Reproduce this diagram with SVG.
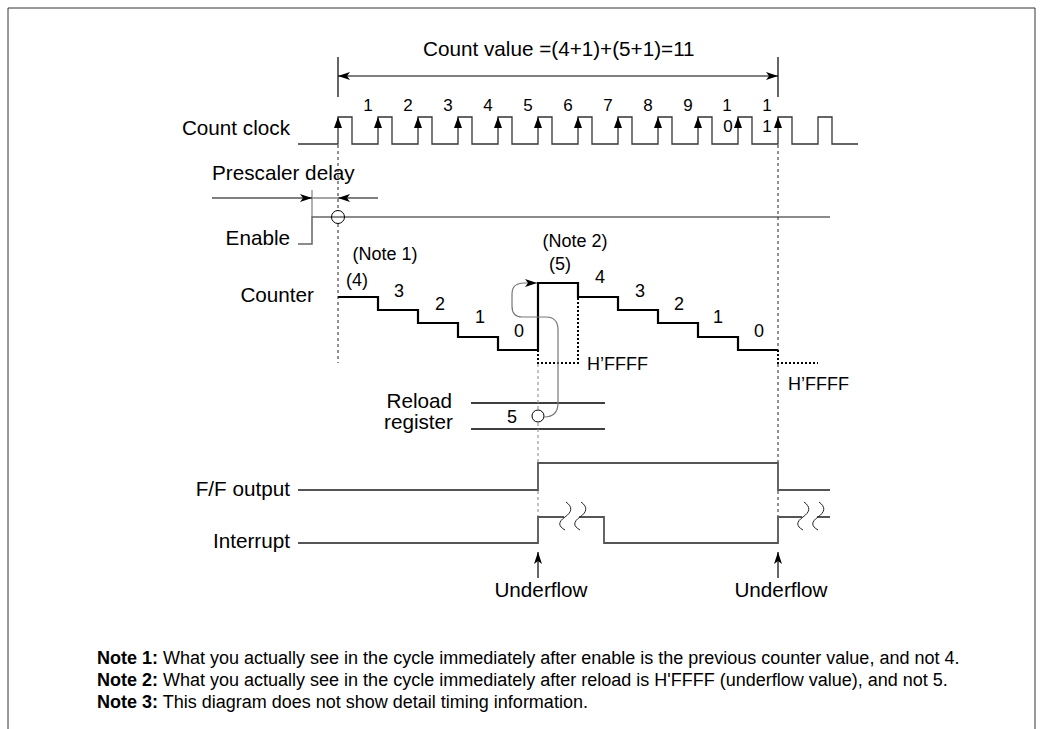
<svg xmlns="http://www.w3.org/2000/svg" width="1044" height="729" viewBox="0 0 1044 729">
<style>
text{font-family:"Liberation Sans",Arial,Helvetica,sans-serif;fill:#000}
.lbl{font-size:20.7px}
.dig{font-size:17px;text-anchor:middle}
.cdig{font-size:18px;text-anchor:middle}
.note{font-size:18px}
.end{text-anchor:end}
.mid{text-anchor:middle}
.wave{fill:none;stroke:#333;stroke-width:1.3}
.sig{fill:none;stroke:#555;stroke-width:1.8}
.cnt{fill:none;stroke:#000;stroke-width:2.2}
.dot{fill:none;stroke:#000;stroke-width:2;stroke-dasharray:2 2}
.guide{fill:none;stroke:#222;stroke-width:1;stroke-dasharray:3 3}
.guide2{fill:none;stroke:#999;stroke-width:1.2;stroke-dasharray:3 3}
.thin{fill:none;stroke:#000;stroke-width:1.2}
.gray{fill:none;stroke:#888;stroke-width:1.3}
.sq{fill:none;stroke:#222;stroke-width:1}
</style>
<defs>
<marker id="arr" viewBox="0 0 12 8" refX="12" refY="4" markerWidth="12" markerHeight="8" orient="auto-start-reverse" markerUnits="userSpaceOnUse"><path d="M0 0 L12 4 L0 8 L3 4 Z" fill="#000"/></marker>
<path id="ah" d="M0 0 L-4 11 L4 11 Z" fill="#000"/>
</defs>
<path d="M8 740 V8 H1035 V740" fill="none" stroke="#333" stroke-width="1"/>

<g id="title">
<text class="lbl" x="423" y="56">Count value =(4+1)+(5+1)=11</text>
</g>

<g id="count-clock">
<text class="lbl end" x="290" y="135">Count clock</text>
<path class="wave" d="M298 144 H338 V117 H352 V144 H378 V117 H392 V144 H418 V117 H432 V144 H458 V117 H472 V144 H498 V117 H512 V144 H538 V117 H552 V144 H578 V117 H592 V144 H618 V117 H632 V144 H658 V117 H672 V144 H698 V117 H712 V144 H738 V117 H752 V144 H778 V117 H792 V144 H818 V117 H832 V144 H858"/>
<use href="#ah" x="338" y="117"/><use href="#ah" x="378" y="117"/><use href="#ah" x="418" y="117"/><use href="#ah" x="458" y="117"/><use href="#ah" x="498" y="117"/><use href="#ah" x="538" y="117"/><use href="#ah" x="578" y="117"/><use href="#ah" x="618" y="117"/><use href="#ah" x="658" y="117"/><use href="#ah" x="698" y="117"/><use href="#ah" x="738" y="117"/><use href="#ah" x="778" y="117"/>
<text class="dig" x="368" y="111">1</text>
<text class="dig" x="408" y="111">2</text>
<text class="dig" x="448" y="111">3</text>
<text class="dig" x="488" y="111">4</text>
<text class="dig" x="528" y="111">5</text>
<text class="dig" x="568" y="111">6</text>
<text class="dig" x="608" y="111">7</text>
<text class="dig" x="648" y="111">8</text>
<text class="dig" x="688" y="111">9</text>
<text class="dig" x="727" y="111">1</text>
<text class="dig" x="728" y="132">0</text>
<text class="dig" x="767" y="111">1</text>
<text class="dig" x="767" y="132">1</text>
</g>

<g id="prescaler">
<text class="lbl" x="212" y="180">Prescaler delay</text>
<path class="gray" d="M312 190 V217 M312 198 H338"/>
</g>

<g id="enable">
<text class="lbl end" x="290" y="245">Enable</text>
<path fill="none" stroke="#666" stroke-width="1.5" d="M298 244 H312 V217 H830"/>
<circle cx="338" cy="217" r="6.5" fill="none" stroke="#000" stroke-width="1"/>
</g>

<g id="counter">
<text class="lbl end" x="314" y="302">Counter</text>
<text class="note mid" x="385" y="260">(Note 1)</text>
<text class="note mid" x="575" y="247">(Note 2)</text>
<text class="cdig" x="357" y="286">(4)</text>
<text class="cdig" x="560" y="270">(5)</text>
<path class="cnt" d="M338 297 H378 V310 H418 V323 H458 V337 H498 V350 H538 V283 H578 V297 H618 V310 H658 V323 H698 V337 H738 V350 H778"/>
<path class="dot" d="M538 350 V363 H578 V297"/>
<path class="dot" d="M778 350 V363 H818"/>
<text class="cdig" x="399" y="297">3</text>
<text class="cdig" x="440" y="310">2</text>
<text class="cdig" x="480" y="323">1</text>
<text class="cdig" x="519" y="337">0</text>
<text class="cdig" x="600" y="283">4</text>
<text class="cdig" x="640" y="297">3</text>
<text class="cdig" x="679" y="310">2</text>
<text class="cdig" x="718" y="323">1</text>
<text class="cdig" x="759" y="337">0</text>
<text class="note" x="587" y="370">H’FFFF</text>
<text class="note" x="788" y="390">H’FFFF</text>
</g>

<g id="reload-register">
<text class="lbl end" x="452" y="408">Reload</text>
<text class="lbl end" x="453" y="429">register</text>
<path fill="none" stroke="#000" stroke-width="1.6" d="M471 403 H605 M471 429 H605"/>
<text class="cdig" x="512" y="423">5</text>
<circle cx="538" cy="416" r="6" fill="none" stroke="#000" stroke-width="1"/>
</g>

<g id="ff-output">
<text class="lbl end" x="290" y="496">F/F output</text>
<path class="sig" d="M298 490 H538 V463 H778 V490 H830"/>
</g>

<g id="interrupt">
<text class="lbl end" x="290" y="548">Interrupt</text>
<path class="sig" d="M298 543 H538 V517 H564 M579 517 H604 V543 H778 V517 H802 M817 517 H830"/>
<path class="sq" d="M566 502 C573 507 572 512 565 517 C558 522 558 526 565 530"/>
<path class="sq" d="M581 502 C588 507 587 512 580 517 C573 522 573 526 580 530"/>
<path class="sq" d="M804 502 C811 507 810 512 803 517 C796 522 796 526 803 530"/>
<path class="sq" d="M819 502 C826 507 825 512 818 517 C811 522 811 526 818 530"/>
</g>

<g id="underflow-1">
<text class="lbl mid" x="541" y="597">Underflow</text>
</g>
<g id="underflow-2">
<text class="lbl mid" x="781" y="597">Underflow</text>
</g>

<g id="connectors">
<path class="thin" d="M338 57 V97 M778 57 V97"/>
<line class="thin" x1="338" y1="76" x2="778" y2="76" marker-start="url(#arr)" marker-end="url(#arr)"/>
<line class="thin" x1="212" y1="198" x2="312" y2="198" marker-end="url(#arr)"/>
<line class="thin" x1="378" y1="198" x2="338" y2="198" marker-end="url(#arr)"/>
<path class="guide" d="M338 145 V211 M338 224 V363"/>
<path class="guide" d="M778 145 V350 M778 364 V462 M778 491 V516"/>
<path class="guide2" d="M538 364 V410 M538 423 V462 M538 491 V516"/>
<path fill="none" stroke="#777" stroke-width="1.2" d="M544 417 Q558 417 558 403 V330 Q558 317 546 317 H522 Q512 317 512 306 V294 Q512 283 524 283 H537" marker-end="url(#arr)"/>
<line class="thin" x1="538" y1="578" x2="538" y2="552" marker-end="url(#arr)"/>
<line class="thin" x1="778" y1="578" x2="778" y2="552" marker-end="url(#arr)"/>
</g>

<g id="notes">
<text class="note" x="97" y="664"><tspan font-weight="bold">Note 1:</tspan> What you actually see in the cycle immediately after enable is the previous counter value, and not 4.</text>
<text class="note" x="97" y="686"><tspan font-weight="bold">Note 2:</tspan> What you actually see in the cycle immediately after reload is H'FFFF (underflow value), and not 5.</text>
<text class="note" x="97" y="708"><tspan font-weight="bold">Note 3:</tspan> This diagram does not show detail timing information.</text>
</g>
</svg>
